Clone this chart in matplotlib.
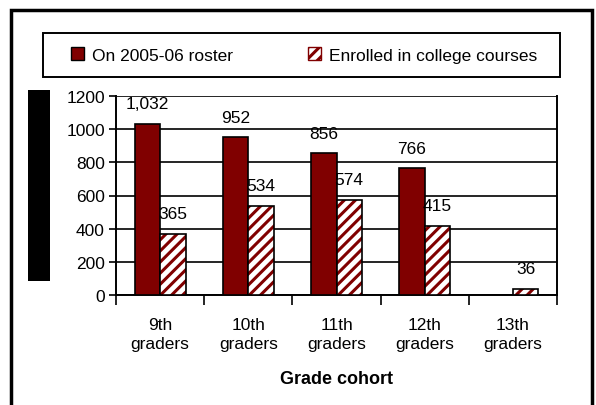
import matplotlib
matplotlib.use("Agg")
import matplotlib.pyplot as plt
import numpy as np
from matplotlib.patches import Rectangle, Patch

plt.rcParams['font.family'] = ['Liberation Sans', 'DejaVu Sans']
plt.rcParams['hatch.linewidth'] = 2.2

categories = ["9th\ngraders", "10th\ngraders", "11th\ngraders", "12th\ngraders", "13th\ngraders"]
roster = [1032, 952, 856, 766, None]
enrolled = [365, 534, 574, 415, 36]
roster_labels = ["1,032", "952", "856", "766", ""]
enrolled_labels = ["365", "534", "574", "415", "36"]
series_names = ["On 2005-06 roster", "Enrolled in college courses"]

W, H = 596, 406
fig = plt.figure(figsize=(W/100, H/100), dpi=100)

def fx(x): return x / W
def fy(y): return 1 - y / H

FS = 12.5

# outer frame
fig.patches.append(Rectangle((fx(11), fy(420)), fx(592) - fx(11), fy(11) - fy(420),
                             transform=fig.transFigure, fill=False, edgecolor='black', lw=2.5))
# black block (rendered y-axis title)
fig.patches.append(Rectangle((fx(28), fy(282)), fx(50) - fx(28), fy(91) - fy(282),
                             transform=fig.transFigure, facecolor='black', edgecolor='none'))
# legend box
fig.patches.append(Rectangle((fx(43), fy(78)), fx(560) - fx(43), fy(34) - fy(78),
                             transform=fig.transFigure, fill=False, edgecolor='black', lw=1.4))

ax = fig.add_axes([fx(116), fy(296), fx(557) - fx(116), fy(97) - fy(296)])

x = np.arange(len(categories))
bw = 0.29
dark = '#800000'
r_vals = [v if v is not None else 0 for v in roster]
ax.bar(x - bw/2, r_vals, bw, color=dark, edgecolor='black', lw=1.2, zorder=3)
ax.bar(x + bw/2, enrolled, bw, color='white', edgecolor=dark, lw=0, hatch='///', zorder=3)
ax.bar(x + bw/2, enrolled, bw, fill=False, edgecolor='black', lw=1.2, zorder=4)

for i, (v, lab) in enumerate(zip(roster, roster_labels)):
    if v is not None:
        ax.text(x[i] - bw/2, v + 75, lab, ha='center', va='bottom', fontsize=FS, zorder=5)
for i, (v, lab) in enumerate(zip(enrolled, enrolled_labels)):
    ax.text(x[i] + bw/2, v + 80, lab, ha='center', va='bottom', fontsize=FS, zorder=5)

ax.set_xlim(-0.5, len(categories) - 0.5)
ax.set_ylim(0, 1200)
ax.set_yticks([0, 200, 400, 600, 800, 1000, 1200])
ax.grid(axis='y', color='black', lw=1.2, zorder=0)
ax.set_xticks(x)
ax.set_xticklabels(categories, fontsize=FS, linespacing=1.3)
ax.tick_params(axis='x', length=0, pad=16)
ax.set_xticks(np.arange(len(categories) + 1) - 0.5, minor=True)
ax.tick_params(axis='x', which='minor', length=7, width=1.2, direction='out')
ax.tick_params(axis='y', length=5, width=1.2, labelsize=FS, pad=3)
ax.spines['top'].set_visible(False)
for s in ['left', 'bottom', 'right']:
    ax.spines[s].set_linewidth(1.4)
ax.set_xlabel("Grade cohort", fontsize=13, fontweight='bold', labelpad=14)

handles = [Patch(facecolor=dark, edgecolor='black', lw=1),
           Patch(facecolor='white', edgecolor=dark, hatch='///', lw=1)]
leg = fig.legend(handles, series_names, loc='center', ncol=2,
                 bbox_to_anchor=(fx(304), fy(56)),
                 fontsize=FS, frameon=False,
                 handlelength=0.75, handleheight=0.75, handletextpad=0.45, columnspacing=4.3,
                 borderaxespad=0, borderpad=0)

fig.savefig("out.png", dpi=100)
